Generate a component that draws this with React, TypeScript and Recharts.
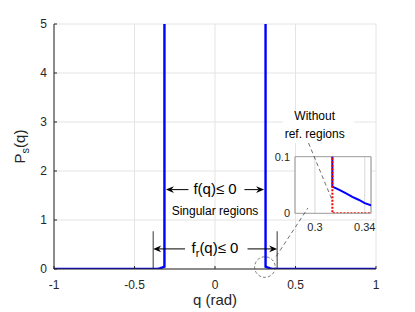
import React from 'react';
import {
  LineChart, Line, XAxis, YAxis, CartesianGrid, ReferenceLine, ReferenceDot, Label,
} from 'recharts';

// ---- data ----
const Q_MAIN = [-1, -0.39, -0.37, -0.355, -0.345, -0.34, -0.335, -0.33, -0.325, -0.32, -0.314, -0.314,
  0.314, 0.314, 0.32, 0.325, 0.33, 0.335, 0.34, 0.345, 0.355, 0.37, 0.39, 1];
const P_MAIN = [0, 0, 0.003, 0.008, 0.014, 0.018, 0.024, 0.029, 0.035, 0.041, 0.047, 60,
  60, 0.047, 0.041, 0.035, 0.029, 0.024, 0.018, 0.014, 0.008, 0.003, 0, 0];
const Q_NOREF = [0.314, 0.314, 0.4];
const P_NOREF = [60, 0, 0];

const X_TICKS = [-1, -0.5, 0, 0.5, 1];
const Y_TICKS = [0, 1, 2, 3, 4, 5];
const INSET_X_TICKS = [0.3, 0.34];
const INSET_Y_TICKS = [0, 0.1];

const mainData = Q_MAIN.map((q, i) => ({ q, p: P_MAIN[i] }));
const noRefData = Q_NOREF.map((q, i) => ({ q, p: P_NOREF[i] }));

const FONT = '"Liberation Sans", Arial, Helvetica, sans-serif';
const AX = '#262626';

const arrowShape = (p: any) => {
  const { x1, y1, x2, y2 } = p;
  const dx = x2 - x1, dy = y2 - y1;
  const L = Math.hypot(dx, dy) || 1;
  const ux = dx / L, uy = dy / L;
  const len = 8, half = 3.3, back = 5.5;
  const bx = x2 - ux * len, by = y2 - uy * len;
  const nx = x2 - ux * back, ny = y2 - uy * back;
  const px = -uy, py = ux;
  return (
    <g>
      <line x1={x1} y1={y1} x2={nx} y2={ny} stroke="#000" strokeWidth={1} />
      <polygon
        points={`${x2},${y2} ${bx + px * half},${by + py * half} ${nx},${ny} ${bx - px * half},${by - py * half}`}
        fill="#000"
      />
    </g>
  );
};

const XTitle = (props: any) => {
  const vb = props.viewBox || { x: 54, y: 269, width: 322, height: 43 };
  return (
    <text x={vb.x + vb.width / 2} y={vb.y + 36} textAnchor="middle" fontSize={15} fill={AX} fontFamily={FONT}>
      q (rad)
    </text>
  );
};

const YTitle = (props: any) => {
  const vb = props.viewBox || { x: 0, y: 24, width: 54, height: 245 };
  const x = vb.x + 25;
  const y = vb.y + vb.height / 2;
  return (
    <text x={x} y={y} transform={`rotate(-90, ${x}, ${y})`} textAnchor="middle" fontSize={15} fill={AX} fontFamily={FONT}>
      P<tspan dy={4} fontSize={11}>s</tspan><tspan dy={-4}>(q)</tspan>
    </text>
  );
};

const fqText = (p: any) => (
  <text x={p.cx} y={p.cy} dy={4.5} textAnchor="middle" fontSize={15} fill="#000" fontFamily={FONT}>
    f(q)≤ 0
  </text>
);
const frText = (p: any) => (
  <text x={p.cx} y={p.cy} dy={4.5} textAnchor="middle" fontSize={15} fill="#000" fontFamily={FONT}>
    f<tspan dy={4} fontSize={11}>r</tspan><tspan dy={-4}>(q)≤ 0</tspan>
  </text>
);
const singText = (p: any) => (
  <text x={p.cx} y={p.cy} dy={4.3} textAnchor="middle" fontSize={12} fill="#000" fontFamily={FONT}>
    Singular regions
  </text>
);
const withoutText = (p: any) => (
  <g>
    <rect x={p.cx - 32} y={p.cy - 5} width={71.5} height={32} fill="#fff" />
    <text x={p.cx} y={p.cy} dy={4.3} textAnchor="middle" fontSize={12} fill="#000" fontFamily={FONT}>
      Without
    </text>
    <text x={p.cx} y={p.cy} dy={21.6} textAnchor="middle" fontSize={12} fill="#000" fontFamily={FONT}>
      ref. regions
    </text>
  </g>
);

const emptyTick = () => <g />;

export default function App() {
  return (
    <div style={{ position: 'absolute', left: 0, top: 0, width: 415, height: 312, background: '#fff', fontFamily: FONT }}>
      {/* main chart */}
      <div style={{ position: 'absolute', left: 0, top: 0 }}>
        <LineChart width={415} height={312} data={mainData} margin={{ top: 24, right: 39, bottom: 0, left: 0 }}>
          <CartesianGrid stroke="#e4e4e4" />
          <XAxis
            dataKey="q" type="number" domain={[-1, 1]} ticks={X_TICKS} allowDataOverflow
            height={43} tickSize={-3} tickMargin={14} stroke={AX}
            tick={{ fill: AX, fontSize: 12, fontFamily: FONT }}
            tickFormatter={(v: number) => String(v)}
          >
            <Label content={XTitle} />
          </XAxis>
          <XAxis
            xAxisId="top" orientation="top" dataKey="q" type="number" domain={[-1, 1]} ticks={X_TICKS}
            height={0} tickSize={-3} tick={false} stroke={AX}
          />
          <YAxis
            type="number" domain={[0, 5]} ticks={Y_TICKS} allowDataOverflow
            width={54} tickSize={-3} tickMargin={10} stroke={AX}
            tick={{ fill: AX, fontSize: 12, fontFamily: FONT }}
          >
            <Label content={YTitle} />
          </YAxis>
          <YAxis
            yAxisId="right" orientation="right" type="number" domain={[0, 5]} ticks={Y_TICKS}
            width={0} tickSize={-3} tick={false} stroke={AX}
          />
          <Line dataKey="p" stroke="#0000ff" strokeWidth={2.4} dot={false} isAnimationActive={false} />

          {/* f(q) <= 0 arrows */}
          <ReferenceLine ifOverflow="visible" segment={[{ x: -0.165, y: 1.62 }, { x: -0.305, y: 1.62 }]} shape={arrowShape} />
          <ReferenceLine ifOverflow="visible" segment={[{ x: 0.183, y: 1.62 }, { x: 0.305, y: 1.62 }]} shape={arrowShape} />
          <ReferenceDot ifOverflow="visible" x={0} y={1.62} shape={fqText} />
          <ReferenceDot ifOverflow="visible" x={0} y={1.19} shape={singText} />

          {/* f_r(q) <= 0 arrows */}
          <ReferenceLine ifOverflow="visible" segment={[{ x: -0.384, y: 0 }, { x: -0.384, y: 0.77 }]} stroke="#000" strokeWidth={0.8} />
          <ReferenceLine ifOverflow="visible" segment={[{ x: 0.386, y: 0 }, { x: 0.386, y: 0.77 }]} stroke="#000" strokeWidth={0.8} />
          <ReferenceLine ifOverflow="visible" segment={[{ x: -0.186, y: 0.41 }, { x: -0.384, y: 0.41 }]} shape={arrowShape} />
          <ReferenceLine ifOverflow="visible" segment={[{ x: 0.202, y: 0.41 }, { x: 0.386, y: 0.41 }]} shape={arrowShape} />
          <ReferenceDot ifOverflow="visible" x={0} y={0.41} shape={frText} />

          {/* zoom circle */}
          <ReferenceDot ifOverflow="visible" x={0.31} y={0.04} r={10.3} fill="none" stroke="#444" strokeWidth={0.7} strokeDasharray="3 2" />

          {/* text box */}
          <ReferenceDot ifOverflow="visible" x={0.619} y={3.12} shape={withoutText} />
        </LineChart>
      </div>

      {/* inset chart */}
      <div style={{ position: 'absolute', left: 270, top: 150 }}>
        <LineChart width={110} height={90} margin={{ top: 6.7, right: 9, bottom: 0, left: 0 }}>
          <CartesianGrid horizontal={false} stroke="#d8d8d8" fill="#fff" />
          <XAxis
            dataKey="q" type="number" domain={[0.284, 0.345]} ticks={INSET_X_TICKS} allowDataOverflow
            height={26.7} tickLine={false} tickSize={0} tickMargin={10} stroke="#9a9a9a"
            tick={{ fill: AX, fontSize: 11, fontFamily: FONT }}
            tickFormatter={(v: number) => String(v)}
          />
          <YAxis
            type="number" domain={[0, 0.1]} ticks={INSET_Y_TICKS} allowDataOverflow
            width={25} tickLine={false} tickSize={0} tickMargin={5} stroke="#9a9a9a"
            tick={{ fill: AX, fontSize: 11, fontFamily: FONT }}
            tickFormatter={(v: number) => String(v)}
          />
          <ReferenceLine ifOverflow="visible" y={0.1} stroke="#9a9a9a" />
          <ReferenceLine ifOverflow="visible" x={0.345} stroke="#9a9a9a" />
          <Line data={mainData} dataKey="p" stroke="#0000ff" strokeWidth={2} dot={false} isAnimationActive={false} />
          <Line data={noRefData} dataKey="p" stroke="#ff0000" strokeWidth={2} strokeDasharray="2 1.5" dot={false} isAnimationActive={false} />
        </LineChart>
      </div>

      {/* overlay: dashed pointer lines */}
      <div style={{ position: 'absolute', left: 0, top: 0 }}>
        <LineChart width={415} height={312} data={mainData} margin={{ top: 24, right: 39, bottom: 43, left: 54 }}>
          <XAxis hide dataKey="q" type="number" domain={[-1, 1]} allowDataOverflow />
          <YAxis hide type="number" domain={[0, 5]} allowDataOverflow />
          <ReferenceLine ifOverflow="visible" segment={[{ x: 0.38, y: 0.257 }, { x: 0.577, y: 1.245 }]} stroke="#333" strokeWidth={0.7} strokeDasharray="4 3" />
          <ReferenceLine ifOverflow="visible" segment={[{ x: 0.581, y: 2.571 }, { x: 0.7265, y: 1.414 }]} stroke="#333" strokeWidth={0.7} strokeDasharray="4 3" />
        </LineChart>
      </div>
    </div>
  );
}
